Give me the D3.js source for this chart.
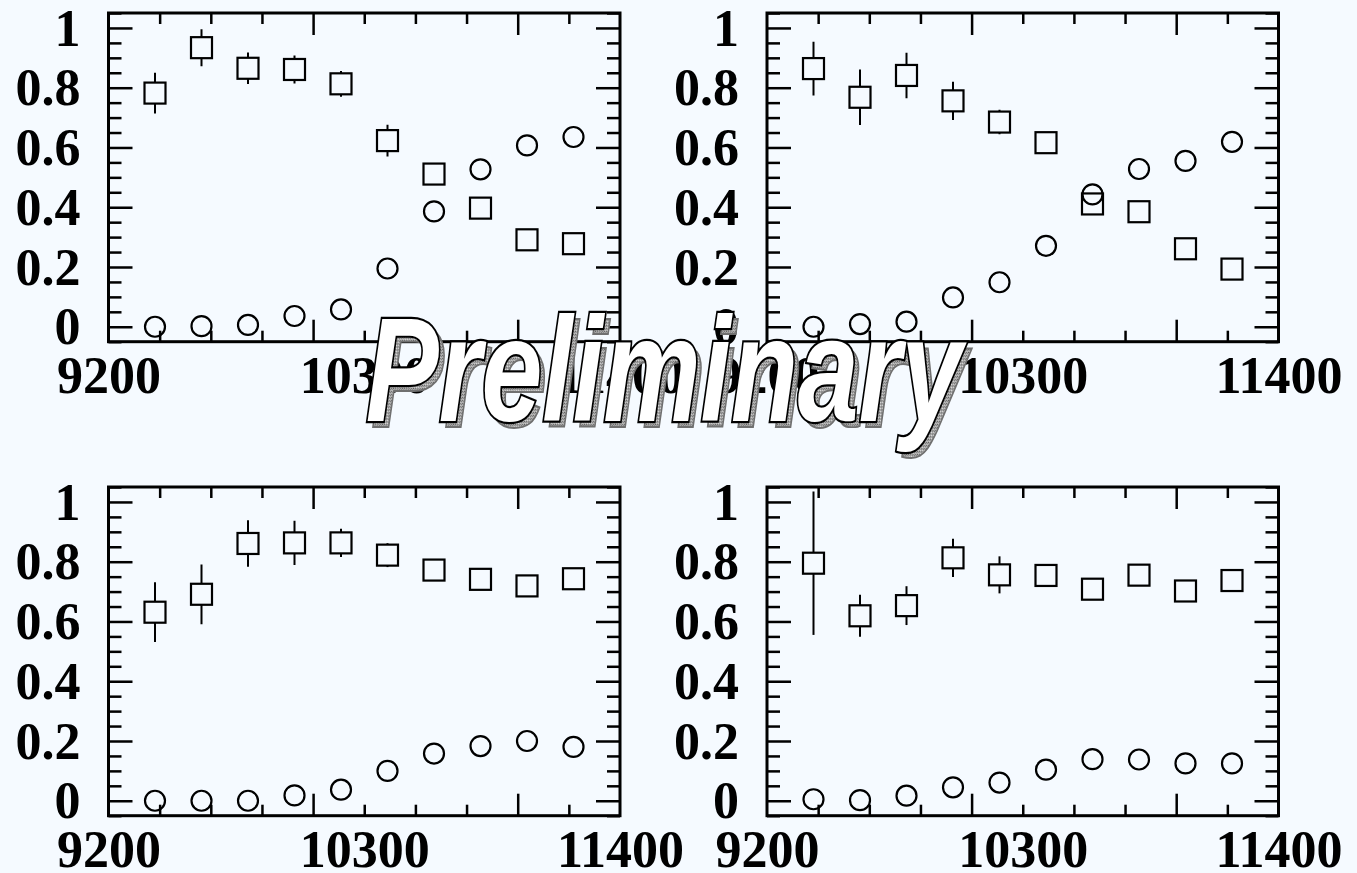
<!DOCTYPE html>
<html>
<head>
<meta charset="utf-8">
<script src="https://cdn.jsdelivr.net/npm/d3@7"></script>
<style>
  html, body { margin: 0; padding: 0; background: #f5faff; }
  svg { display: block; }
</style>
</head>
<body>
<svg id="chart" width="1357" height="873"></svg>
<script>
// Beam energy points (x) shared by all four panels
const energies = [9400, 9600, 9800, 10000, 10200, 10400, 10600, 10800, 11000, 11200];

// Panel 1 (top left)
const sq1 = [0.782, 0.934, 0.865, 0.861, 0.813, 0.623, 0.511, 0.397, 0.291, 0.278];
const sq1Err = [0.068, 0.062, 0.053, 0.047, 0.043, 0.053, 0.03, 0.03, 0.03, 0.03];
const ci1 = [0.0, 0.002, 0.006, 0.036, 0.058, 0.195, 0.386, 0.527, 0.607, 0.635];
const ci1Err = [0.02, 0.02, 0.02, 0.02, 0.02, 0.02, 0.02, 0.02, 0.02, 0.02];

// Panel 2 (top right)
const sq2 = [0.864, 0.768, 0.841, 0.756, 0.685, 0.616, 0.411, 0.385, 0.261, 0.193];
const sq2Err = [0.09, 0.093, 0.076, 0.064, 0.041, 0.03, 0.03, 0.03, 0.03, 0.03];
const ci2 = [0.0, 0.009, 0.017, 0.098, 0.149, 0.271, 0.443, 0.528, 0.555, 0.619];
const ci2Err = [0.02, 0.02, 0.02, 0.02, 0.02, 0.02, 0.02, 0.02, 0.02, 0.02];

// Panel 3 (bottom left)
const sq3 = [0.631, 0.691, 0.861, 0.863, 0.863, 0.822, 0.772, 0.741, 0.719, 0.743];
const sq3Err = [0.10, 0.10, 0.078, 0.074, 0.047, 0.04, 0.03, 0.03, 0.03, 0.03];
const ci3 = [0.0, 0.0, 0.0, 0.018, 0.037, 0.100, 0.158, 0.183, 0.200, 0.180];
const ci3Err = [0.02, 0.02, 0.02, 0.02, 0.02, 0.02, 0.02, 0.02, 0.02, 0.02];

// Panel 4 (bottom right)
const sq4 = [0.795, 0.619, 0.653, 0.813, 0.756, 0.754, 0.708, 0.755, 0.702, 0.737];
const sq4Err = [0.24, 0.07, 0.065, 0.064, 0.062, 0.035, 0.03, 0.03, 0.03, 0.03];
const ci4 = [0.005, 0.002, 0.017, 0.045, 0.061, 0.104, 0.139, 0.138, 0.125, 0.125];
const ci4Err = [0.02, 0.02, 0.02, 0.02, 0.02, 0.02, 0.02, 0.02, 0.02, 0.02];

// Axis ranges and ticks
const xDomain = [9200, 11400];
const yDomain = [-0.05, 1.05];
const xLabelTicks = [9200, 10300, 11400];
const xMajorTicks = [10080, 10960];
const xMinorTicks = [9420, 9640, 9860, 10300, 10520, 10740, 11180];
const yLabelTicks = [0, 0.2, 0.4, 0.6, 0.8, 1];
const yMinorTicks = [-0.05, 0.05, 0.1, 0.15, 0.25, 0.3, 0.35, 0.45, 0.5, 0.55, 0.65, 0.7, 0.75, 0.85, 0.9, 0.95, 1.05];

const watermark = "Preliminary";

const panels = [
  { left: 108.5, top: 13,  sq: sq1, sqErr: sq1Err, ci: ci1, ciErr: ci1Err },
  { left: 767,   top: 13,  sq: sq2, sqErr: sq2Err, ci: ci2, ciErr: ci2Err },
  { left: 108.5, top: 487, sq: sq3, sqErr: sq3Err, ci: ci3, ciErr: ci3Err },
  { left: 767,   top: 487, sq: sq4, sqErr: sq4Err, ci: ci4, ciErr: ci4Err }
];

const W = 511.5, H = 328.7;
const SQ = 21, CR = 10;
const svg = d3.select("#chart");
const fontFam = "'Liberation Serif', 'Times New Roman', serif";

function styleAxis(sel) {
  sel.select(".domain").remove();
  sel.selectAll("line").attr("stroke", "#000").attr("stroke-width", 2.5);
  sel.selectAll("text")
    .attr("fill", "#000")
    .style("font-family", fontFam)
    .style("font-weight", "bold")
    .style("font-size", "52px");
}

panels.forEach((p, i) => {
  const g = svg.append("g");
  const x = d3.scaleLinear().domain(xDomain).range([p.left, p.left + W]);
  const y = d3.scaleLinear().domain(yDomain).range([p.top + H, p.top]);

  const clipId = "clip" + i;
  g.append("clipPath").attr("id", clipId)
    .append("rect").attr("x", p.left).attr("y", p.top).attr("width", W).attr("height", H);

  // left axis: labelled majors + minors
  g.append("g").attr("transform", `translate(${p.left},0)`)
    .call(d3.axisLeft(y).tickValues(yLabelTicks).tickSize(-24).tickPadding(28)
      .tickFormat(d => d3.format("")(+d.toFixed(1))))
    .call(styleAxis)
    .call(s => s.selectAll("text").attr("dy", "0.33em"));
  g.append("g").attr("transform", `translate(${p.left},0)`)
    .call(d3.axisLeft(y).tickValues(yMinorTicks).tickSize(-13).tickFormat(""))
    .call(styleAxis);
  // right axis: mirrored ticks
  g.append("g").attr("transform", `translate(${p.left + W},0)`)
    .call(d3.axisRight(y).tickValues(yLabelTicks).tickSize(-24).tickFormat(""))
    .call(styleAxis);
  g.append("g").attr("transform", `translate(${p.left + W},0)`)
    .call(d3.axisRight(y).tickValues(yMinorTicks).tickSize(-13).tickFormat(""))
    .call(styleAxis);

  // bottom axis: labels, long and short ticks
  g.append("g").attr("transform", `translate(0,${p.top + H})`)
    .call(d3.axisBottom(x).tickValues(xLabelTicks).tickSize(0).tickPadding(14).tickFormat(d3.format("d")))
    .call(styleAxis)
    .call(s => s.selectAll("text").attr("dy", "0.71em"));
  g.append("g").attr("transform", `translate(0,${p.top + H})`)
    .call(d3.axisBottom(x).tickValues(xMajorTicks).tickSize(-22).tickFormat(""))
    .call(styleAxis);
  g.append("g").attr("transform", `translate(0,${p.top + H})`)
    .call(d3.axisBottom(x).tickValues(xMinorTicks).tickSize(-11).tickFormat(""))
    .call(styleAxis);
  // top axis: mirrored ticks
  g.append("g").attr("transform", `translate(0,${p.top})`)
    .call(d3.axisTop(x).tickValues(xMajorTicks).tickSize(-22).tickFormat(""))
    .call(styleAxis);
  g.append("g").attr("transform", `translate(0,${p.top})`)
    .call(d3.axisTop(x).tickValues(xMinorTicks).tickSize(-11).tickFormat(""))
    .call(styleAxis);

  // frame
  g.append("rect")
    .attr("x", p.left).attr("y", p.top).attr("width", W).attr("height", H)
    .attr("fill", "none").attr("stroke", "#000").attr("stroke-width", 3);

  const plot = g.append("g").attr("clip-path", `url(#${clipId})`);

  // error bars drawn only outside the marker body
  function errBars(vals, errs, half) {
    const pts = energies.map((e, k) => ({ e, v: vals[k], s: errs[k] }));
    const segs = [];
    pts.forEach(d => {
      const yc = y(d.v), yHi = y(d.v + d.s), yLo = y(d.v - d.s);
      if (yc - half > yHi) segs.push({ x: x(d.e), y1: yHi, y2: yc - half });
      if (yc + half < yLo) segs.push({ x: x(d.e), y1: yc + half, y2: yLo });
    });
    plot.append("g").selectAll("line").data(segs).join("line")
      .attr("x1", d => d.x).attr("x2", d => d.x)
      .attr("y1", d => d.y1).attr("y2", d => d.y2)
      .attr("stroke", "#000").attr("stroke-width", 2);
  }
  errBars(p.sq, p.sqErr, SQ / 2);
  errBars(p.ci, p.ciErr, CR);

  plot.append("g").selectAll("rect").data(energies).join("rect")
    .attr("x", (e) => x(e) - SQ / 2)
    .attr("y", (e, k) => y(p.sq[k]) - SQ / 2)
    .attr("width", SQ).attr("height", SQ)
    .attr("fill", "none").attr("stroke", "#000").attr("stroke-width", 2.2);

  plot.append("g").selectAll("circle").data(energies).join("circle")
    .attr("cx", e => x(e))
    .attr("cy", (e, k) => y(p.ci[k]))
    .attr("r", CR)
    .attr("fill", "none").attr("stroke", "#000").attr("stroke-width", 2.2);
});

// grainy grey drop shadow pattern for the watermark
const defs = svg.append("defs");
const pat = defs.append("pattern").attr("id", "grain")
  .attr("width", 3).attr("height", 3).attr("patternUnits", "userSpaceOnUse");
pat.append("rect").attr("width", 3).attr("height", 3).attr("fill", "#a8a8a8");
pat.append("rect").attr("width", 1).attr("height", 1).attr("fill", "#606060");
pat.append("rect").attr("x", 2).attr("y", 1).attr("width", 1).attr("height", 1).attr("fill", "#7a7a7a");
pat.append("rect").attr("x", 1).attr("y", 2).attr("width", 1).attr("height", 1).attr("fill", "#d8d8d8");

const wm = svg.append("g").attr("transform", "translate(664,421) scale(0.74,1)");
const wmStyle = s => s.attr("text-anchor", "middle")
  .style("font-family", "'Liberation Sans', Arial, sans-serif")
  .style("font-weight", "bold").style("font-style", "italic")
  .style("font-size", "148px").text(watermark);
wm.append("text").attr("x", 7).attr("y", 6).call(wmStyle)
  .attr("fill", "url(#grain)").attr("stroke", "#707070").attr("stroke-width", 2);
wm.append("text").attr("x", 0).attr("y", 0).call(wmStyle)
  .attr("fill", "#fff").attr("stroke", "#000").attr("stroke-width", 4.5)
  .attr("paint-order", "stroke");
</script>
</body>
</html>
